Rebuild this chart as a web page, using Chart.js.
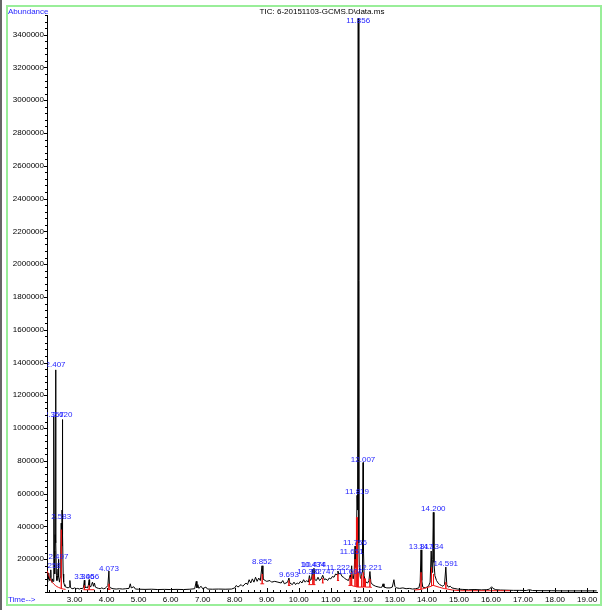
<!DOCTYPE html>
<html>
<head>
<meta charset="utf-8">
<script src="https://cdn.jsdelivr.net/npm/chart.js"></script>
<style>
  html, body { margin: 0; padding: 0; background: #fff; }
  canvas { display: block; }
</style>
</head>
<body>
<canvas id="tic" width="608" height="610"></canvas>
<script>
// Chromatogram trace: retention time (min) and abundance
const traceTime = [
  2.15, 2.16, 2.17, 2.18, 2.19, 2.20, 2.22, 2.24, 2.258, 2.27, 2.29, 2.31, 2.33, 2.345, 2.357, 2.37, 2.38, 2.395, 2.407, 2.42,
  2.435, 2.45, 2.47, 2.485, 2.497, 2.51, 2.53, 2.55, 2.57, 2.583, 2.60, 2.61, 2.620, 2.63, 2.645, 2.66, 2.68, 2.70, 2.73, 2.76,
  2.80, 2.83, 2.855, 2.87, 2.90, 2.95, 3.00, 3.05, 3.10, 3.15, 3.20, 3.25, 3.28, 3.306, 3.32, 3.36, 3.40, 3.43, 3.456, 3.47,
  3.50, 3.53, 3.56, 3.59, 3.62, 3.65, 3.70, 3.75, 3.80, 3.85, 3.90, 3.95, 4.00, 4.04, 4.073, 4.09, 4.12, 4.20, 4.30, 4.40,
  4.50, 4.60, 4.70, 4.74, 4.77, 4.85, 4.90, 5.00, 5.20, 5.40, 5.60, 5.80, 6.00, 6.20, 6.40, 6.60, 6.75, 6.80, 6.82, 6.85,
  6.88, 6.95, 7.00, 7.10, 7.15, 7.30, 7.50, 7.70, 7.90, 8.00, 8.05, 8.10, 8.20, 8.25, 8.35, 8.40, 8.45, 8.50, 8.55, 8.60,
  8.65, 8.70, 8.75, 8.80, 8.852, 8.88, 8.95, 9.00, 9.10, 9.15, 9.25, 9.35, 9.45, 9.50, 9.55, 9.65, 9.693, 9.72, 9.80, 9.85,
  9.90, 9.95, 10.00, 10.05, 10.10, 10.15, 10.20, 10.25, 10.30, 10.332, 10.36, 10.40, 10.434, 10.45, 10.474, 10.50, 10.55, 10.60, 10.65, 10.70,
  10.747, 10.80, 10.85, 10.90, 10.95, 11.00, 11.05, 11.10, 11.15, 11.20, 11.222, 11.25, 11.30, 11.35, 11.40, 11.45, 11.50, 11.55, 11.58, 11.604,
  11.62, 11.651, 11.67, 11.70, 11.73, 11.756, 11.78, 11.80, 11.819, 11.835, 11.856, 11.875, 11.89, 11.92, 11.95, 11.975, 11.99, 12.007, 12.02, 12.04,
  12.07, 12.10, 12.15, 12.19, 12.221, 12.25, 12.30, 12.35, 12.40, 12.50, 12.55, 12.60, 12.63, 12.66, 12.75, 12.85, 12.92, 12.97, 13.00, 13.05,
  13.15, 13.25, 13.35, 13.45, 13.55, 13.65, 13.75, 13.79, 13.817, 13.84, 13.87, 13.95, 14.00, 14.05, 14.10, 14.134, 14.16, 14.18, 14.200, 14.22,
  14.25, 14.30, 14.35, 14.40, 14.45, 14.50, 14.55, 14.591, 14.62, 14.67, 14.73, 14.78, 14.85, 14.95, 15.10, 15.30, 15.50, 15.70, 15.85, 15.95,
  16.02, 16.06, 16.15, 16.30, 16.50, 16.70, 16.90, 17.10, 17.20, 17.30, 17.60, 17.90, 18.20, 18.60, 19.00, 19.30
];
const traceAbundance = [
  60000, 100000, 75000, 115000, 80000, 95000, 70000, 90000, 135000, 70000, 60000, 80000, 65000, 300000, 1070000, 250000, 110000, 350000, 1355000, 300000,
  100000, 70000, 100000, 140000, 200000, 90000, 60000, 90000, 250000, 420000, 280000, 500000, 1052000, 350000, 110000, 60000, 45000, 35000, 30000, 28000,
  25000, 30000, 70000, 30000, 22000, 20000, 25000, 20000, 22000, 18000, 22000, 20000, 30000, 72000, 25000, 30000, 25000, 40000, 75000, 40000,
  30000, 45000, 60000, 35000, 55000, 30000, 25000, 22000, 20000, 25000, 20000, 22000, 30000, 40000, 128000, 35000, 25000, 20000, 18000, 20000,
  18000, 20000, 22000, 50000, 25000, 32000, 18000, 17000, 16000, 17000, 15000, 16000, 15000, 16000, 15000, 17000, 20000, 65000, 25000, 45000,
  22000, 35000, 20000, 30000, 18000, 17000, 18000, 17000, 18000, 25000, 40000, 30000, 45000, 35000, 55000, 45000, 75000, 55000, 80000, 60000,
  90000, 65000, 85000, 70000, 160000, 80000, 70000, 65000, 70000, 60000, 65000, 60000, 55000, 70000, 50000, 60000, 85000, 55000, 45000, 60000,
  45000, 55000, 50000, 65000, 55000, 75000, 60000, 70000, 60000, 100000, 70000, 80000, 140000, 80000, 145000, 75000, 70000, 90000, 70000, 80000,
  102000, 75000, 80000, 70000, 85000, 80000, 95000, 90000, 110000, 105000, 128000, 110000, 115000, 95000, 90000, 80000, 75000, 70000, 85000, 102000,
  80000, 160000, 90000, 80000, 120000, 280000, 150000, 300000, 590000, 500000, 3500000, 300000, 150000, 90000, 80000, 120000, 300000, 790000, 250000, 100000,
  70000, 60000, 55000, 70000, 125000, 60000, 45000, 40000, 35000, 30000, 28000, 30000, 50000, 30000, 25000, 25000, 30000, 75000, 35000, 25000,
  22000, 25000, 20000, 22000, 18000, 20000, 25000, 60000, 257000, 70000, 30000, 25000, 30000, 35000, 60000, 250000, 120000, 200000, 486000, 180000,
  100000, 70000, 55000, 45000, 40000, 35000, 45000, 152000, 45000, 30000, 35000, 25000, 22000, 18000, 16000, 14000, 15000, 13000, 14000, 17000,
  32000, 22000, 14000, 12000, 11000, 10000, 10000, 9000, 14000, 9000, 8000, 8000, 7000, 7000, 7000, 7000
];

// Integration baselines and drop lines (red); null breaks a segment
const baseTime = [
  2.15, 2.18, 2.22, 2.26, 2.30, 2.35, 2.40, 2.45, 2.50, 2.55, 2.58, 2.58, 2.59, 2.59, 2.65, 2.72, null,
  3.28, 3.306, 3.306, 3.306, 3.456, 3.456, 3.456, 3.62, null,
  4.03, 4.073, 4.073, 4.073, 4.12, null,
  8.80, 8.852, 8.852, 8.86, 8.86, 8.92, null,
  9.66, 9.693, 9.693, 9.693, 9.74, null,
  10.30, 10.332, 10.332, 10.332, 10.434, 10.434, 10.44, 10.44, 10.474, 10.474, 10.474, 10.52, null,
  10.72, 10.747, 10.747, 10.747, 10.78, null,
  11.19, 11.222, 11.222, 11.222, 11.26, null,
  11.55, 11.604, 11.604, 11.604, 11.651, 11.651, 11.651, 11.72, 11.756, 11.756, 11.756, 11.80, 11.80, 11.819, 11.83, 11.83,
  11.856, 11.856, 11.856, 11.95, 11.95, 11.97, 11.97, 12.007, 12.007, 12.02, 12.02, 12.05, 12.05, 12.08, 12.08, 12.221, 12.221, 12.221, 12.28, null,
  13.60, 13.817, 13.817, 13.817, 14.134, 14.134, 14.15, 14.15, 14.20, 14.20, 14.21, 14.21, 14.40, 14.56, 14.591, 14.591, 14.591, 14.80, 15.05, 16.60
];
const baseAbundance = [
  130000, 108000, 88000, 72000, 60000, 49000, 40000, 33000, 28000, 24000, 22000, 380000, 380000, 21000, 18000, 16000, null,
  14000, 14000, 40000, 14000, 14000, 40000, 14000, 14000, null,
  16000, 16000, 50000, 16000, 16000, null,
  50000, 50000, 110000, 110000, 50000, 50000, null,
  40000, 40000, 70000, 40000, 40000, null,
  45000, 45000, 80000, 45000, 45000, 100000, 100000, 45000, 45000, 110000, 45000, 45000, null,
  55000, 55000, 85000, 55000, 55000, null,
  70000, 70000, 110000, 70000, 70000, null,
  40000, 40000, 90000, 40000, 40000, 120000, 40000, 35000, 35000, 200000, 35000, 30000, 455000, 455000, 455000, 30000,
  30000, 120000, 30000, 30000, 100000, 100000, 30000, 30000, 120000, 120000, 30000, 30000, 80000, 80000, 30000, 30000, 80000, 30000, 28000, null,
  12000, 16000, 120000, 16000, 35000, 150000, 150000, 40000, 40000, 110000, 110000, 40000, 28000, 20000, 20000, 60000, 20000, 12000, 8000, 8000
];

// Labelled peaks: retention time, and the abundance the label sits on
const peakTimes = [2.258, 2.357, 2.407, 2.497, 2.583, 2.620, 3.306, 3.456, 4.073, 8.852, 9.693, 10.332, 10.434, 10.474,
  10.747, 11.222, 11.604, 11.651, 11.756, 11.819, 11.856, 12.007, 12.221, 13.817, 14.134, 14.200, 14.591];
const peakLabelAbundance = [140000, 1064000, 1368000, 195000, 438000, 1064000, 73000, 73000, 122000, 164000, 85000, 103000, 146000, 146000,
  103000, 128000, 103000, 225000, 280000, 590000, 3500000, 790000, 128000, 257000, 257000, 486000, 152000];

const title = 'TIC: 6-20151103-GCMS.D\\data.ms';
const yTitle = 'Abundance';
const xTitle = 'Time-->';

const FONT = "'Liberation Sans', Arial, sans-serif";

function toPoints(times, values) {
  const pts = [];
  let last = times[0];
  for (let i = 0; i < times.length; i++) {
    if (times[i] === null) { pts.push({ x: last, y: null }); continue; }
    last = times[i];
    pts.push({ x: times[i], y: values[i] });
  }
  return pts;
}

function isMajorX(v) { return v >= 2.999 && Math.abs(v - Math.round(v)) < 1e-6; }
function isMajorY(v) { return v > 0 && Math.abs(v / 200000 - Math.round(v / 200000)) < 1e-6; }

// frame, titles and minor/major tick marks
const decorations = {
  id: 'decorations',
  afterDraw(chart) {
    const ctx = chart.ctx;
    const xs = chart.scales.x, ys = chart.scales.y;
    ctx.save();
    ctx.fillStyle = '#666';
    ctx.fillRect(0, 0, 2, 610);
    ctx.strokeStyle = '#99ee99';
    ctx.lineWidth = 2;
    ctx.strokeRect(7, 6, 594, 599);

    ctx.font = '8px ' + FONT;
    ctx.fillStyle = '#000';
    ctx.textAlign = 'center';
    ctx.textBaseline = 'alphabetic';
    ctx.fillText(title, 322, 14);
    ctx.textAlign = 'left';
    ctx.fillStyle = '#1f1fff';
    ctx.fillText(yTitle, 8, 14);
    ctx.fillText(xTitle, 8, 602);

    ctx.strokeStyle = '#000';
    ctx.lineWidth = 1;
    ctx.beginPath();
    xs.ticks.forEach(t => {
      const px = Math.round(xs.getPixelForValue(t.value)) + 0.5;
      const len = isMajorX(t.value) ? 4 : 2;
      ctx.moveTo(px, xs.top);
      ctx.lineTo(px, xs.top - len);
    });
    ys.ticks.forEach(t => {
      const py = Math.round(ys.getPixelForValue(t.value)) + 0.5;
      const len = isMajorY(t.value) ? 3 : 2;
      ctx.moveTo(ys.right, py);
      ctx.lineTo(ys.right - len, py);
    });
    ctx.stroke();
    ctx.restore();
  }
};

// retention time labels above peaks
const peakLabels = {
  id: 'peakLabels',
  afterDatasetsDraw(chart) {
    const ctx = chart.ctx;
    const area = chart.chartArea;
    const xs = chart.scales.x, ys = chart.scales.y;
    ctx.save();
    ctx.beginPath();
    ctx.rect(area.left, 0, area.right - area.left, area.bottom);
    ctx.clip();
    ctx.font = '8px ' + FONT;
    ctx.fillStyle = '#1f1fff';
    ctx.textAlign = 'center';
    ctx.textBaseline = 'alphabetic';
    peakTimes.forEach((t, i) => {
      const px = xs.getPixelForValue(t);
      const py = Math.max(ys.getPixelForValue(peakLabelAbundance[i]) - 1, area.top + 8);
      ctx.fillText(t.toFixed(3), px, py);
    });
    ctx.restore();
  }
};

new Chart(document.getElementById('tic'), {
  type: 'line',
  data: {
    datasets: [
      {
        data: toPoints(traceTime, traceAbundance),
        borderColor: '#000',
        borderWidth: 1,
        pointRadius: 0,
        tension: 0,
        order: 1
      },
      {
        data: toPoints(baseTime, baseAbundance),
        borderColor: '#ee1111',
        borderWidth: 1,
        pointRadius: 0,
        tension: 0,
        spanGaps: false,
        order: 0
      }
    ]
  },
  options: {
    responsive: false,
    animation: false,
    layout: { padding: { left: 0, top: 15, right: 11, bottom: 0 } },
    plugins: { legend: { display: false }, tooltip: { enabled: false }, title: { display: false } },
    scales: {
      x: {
        type: 'linear',
        min: 2.14,
        max: 19.31,
        grid: { display: false, drawTicks: false },
        border: { display: true, color: '#000', width: 1 },
        ticks: {
          stepSize: 0.2,
          includeBounds: false,
          autoSkip: false,
          maxRotation: 0,
          padding: 3,
          color: '#000',
          font: { family: FONT, size: 8 },
          callback: v => isMajorX(v) ? v.toFixed(2) : ''
        },
        afterFit: s => { s.height = 18; }
      },
      y: {
        min: 0,
        max: 3520000,
        grid: { display: false, drawTicks: false },
        border: { display: true, color: '#000', width: 1 },
        ticks: {
          stepSize: 40000,
          includeBounds: false,
          autoSkip: false,
          padding: 3,
          color: '#000',
          font: { family: FONT, size: 8 },
          callback: v => isMajorY(v) ? String(v) : ''
        },
        afterFit: s => { s.width = 47; }
      }
    }
  },
  plugins: [decorations, peakLabels]
});
</script>
</body>
</html>
